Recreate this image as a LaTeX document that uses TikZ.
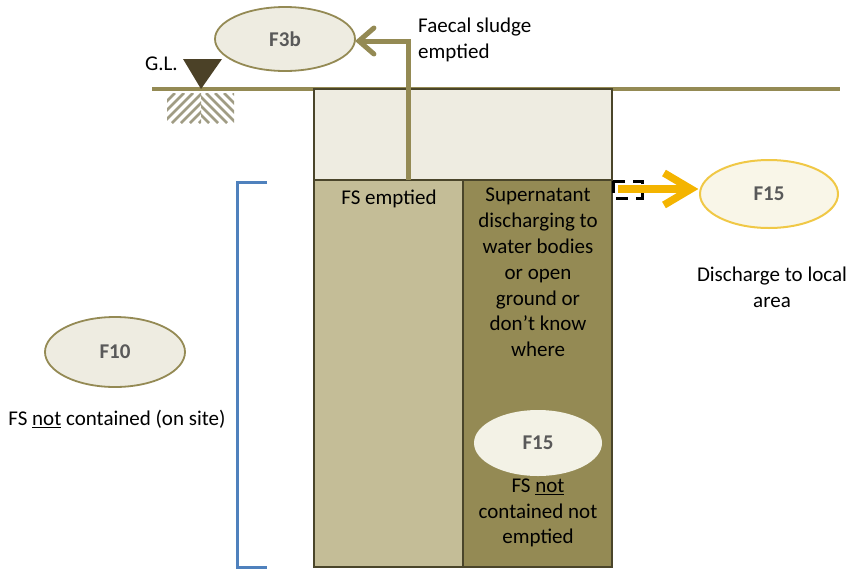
\documentclass[tikz,border=0pt]{standalone}
\usepackage{fontspec}
\setmainfont{Carlito}
\usetikzlibrary{shapes.geometric}
\definecolor{olive}{HTML}{948A54}
\definecolor{tanktop}{HTML}{EEECE1}
\definecolor{leftcol}{HTML}{C4BD97}
\definecolor{rightcol}{HTML}{948A54}
\definecolor{tankedge}{HTML}{4A452A}
\definecolor{ellfill}{HTML}{EEECE1}
\definecolor{yel}{HTML}{F4B400}
\definecolor{yelring}{HTML}{F0C846}
\definecolor{yelfill}{HTML}{F9F6E8}
\definecolor{innerfill}{HTML}{F3F2E6}
\definecolor{bluebr}{HTML}{4F81BD}
\definecolor{flabel}{HTML}{595959}
\definecolor{triangle}{HTML}{4B4127}
\definecolor{hatch}{HTML}{A09C84}
\tikzset{
  body/.style={font=\fontsize{21}{25.8}\selectfont, text=black, inner sep=0pt, align=center},
  flab/.style={font=\fontsize{21}{24}\selectfont\bfseries, text=flabel},
  oell/.style={ellipse, draw=olive, line width=1.8pt, fill=ellfill, inner sep=0pt},
}
\begin{document}
\begin{tikzpicture}[x=1pt,y=-1pt]
\useasboundingbox (0,0) rectangle (854,573);
% hatch under ground
\begin{scope}
\clip (167,93) rectangle (201,123);
\foreach \i in {-40,-31,...,80} {\draw[hatch, line width=2.6pt] (167+\i,123) -- (197+\i,93);}
\end{scope}
\begin{scope}
\clip (201,93) rectangle (234,123);
\foreach \i in {-40,-31,...,80} {\draw[hatch, line width=2.6pt] (201+\i,93) -- (231+\i,123);}
\end{scope}
% ground line
\coordinate (glL) at (152,89);
\coordinate (glR) at (840,89);
\draw[olive, line width=4.5pt] (glL) -- (glR);
% triangle
\fill[triangle] (183,59) -- (222,59) -- (201,89) -- cycle;
\node[body, anchor=east] (gl) at (178,64) {G.L.};
% tank
\draw[tankedge, line width=1.6pt, fill=tanktop] (314,89) rectangle (612,180);
\draw[tankedge, line width=1.6pt, fill=leftcol] (314,180) rectangle (463,567);
\draw[tankedge, line width=1.6pt, fill=rightcol] (463,180) rectangle (612,567);
% ellipses
\node[oell, minimum width=140pt, minimum height=64pt] (f3b) at (285,39) {};
\node[flab] at (f3b) {F3b};
\node[oell, minimum width=140pt, minimum height=70pt] (f10) at (115,352) {};
\node[flab] at (f10) {F10};
\node[ellipse, draw=yelring, line width=2pt, fill=yelfill, minimum width=138pt, minimum height=68pt, inner sep=0pt] (f15r) at (769,194) {};
\node[flab] at (f15r) {F15};
\node[ellipse, fill=innerfill, minimum width=128pt, minimum height=66pt, inner sep=0pt] (f15i) at (538,443) {};
\node[flab] at (f15i) {F15};
% pipe arrow
\coordinate (pipebot) at (408,180);
\coordinate (pipecorner) at (408,41);
\coordinate (pipetip) at ([xshift=3pt]f3b.east |- pipecorner);
\draw[olive, line width=5pt] (pipebot) -- (pipecorner) -- ([xshift=3pt]pipetip);
\draw[olive, line width=5pt, line cap=round, line join=miter] ([shift={(15pt,-13pt)}]pipetip) -- (pipetip) -- ([shift={(15pt,13pt)}]pipetip);
% dashed box and yellow arrow
\draw[black, line width=3pt, dash pattern=on 12pt off 8pt] (613,181) rectangle (642,198);
\coordinate (yelstart) at (618,189);
\coordinate (yeltip) at ([xshift=-8pt]f15r.west |- yelstart);
\draw[yel, line width=7.5pt] (yelstart) -- ([xshift=-4pt]yeltip);
\draw[yel, line width=7.5pt, line join=miter] ([shift={(-27pt,-16pt)}]yeltip) -- (yeltip) -- ([shift={(-27pt,16pt)}]yeltip);
% texts
\node[body, anchor=west, align=left] (faecal) at (418,40) {Faecal sludge\\emptied};
\node[body] (fsempt) at (389,199) {FS emptied};
\node[body] (super) at (538,272.5) {Supernatant\\discharging to\\water bodies\\or open\\ground or\\don’t know\\where};
\node[body] (fsnot) at (538,513) {FS \underline{not}\\contained not\\emptied};
\node[body] (disch) at (772,287) {Discharge to local\\area};
\node[body] (onsite) at (117,419) {FS \underline{not} contained (on site)};
% blue bracket
\draw[bluebr, line width=3pt] (267,182) -- (237,182) -- (237,567) -- (267,567);
\end{tikzpicture}
\end{document}
